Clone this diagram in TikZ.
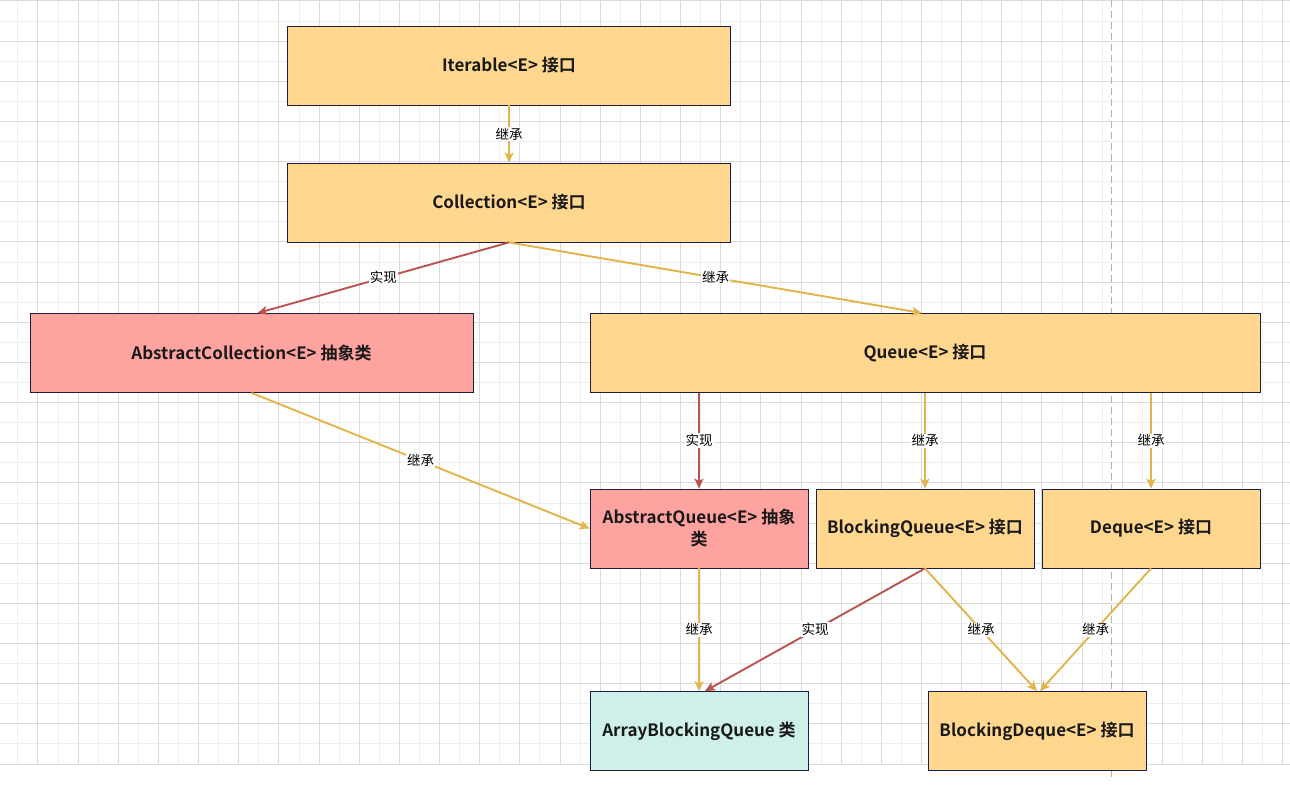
\documentclass[tikz,border=0pt]{standalone}
\usepackage{fontspec}
\newfontfamily\cjk{Noto Sans CJK SC}[BoldFont={Noto Sans CJK SC Bold}]
\usetikzlibrary{arrows.meta}
\definecolor{jaune}{HTML}{FFD78F}
\definecolor{rose}{HTML}{FFA3A0}
\definecolor{turquoise}{HTML}{CFF0E8}
\definecolor{bord}{HTML}{1B1F45}
\definecolor{lienjaune}{HTML}{E3B44B}
\definecolor{lienrouge}{HTML}{B95450}
\definecolor{majeure}{HTML}{DADADA}
\definecolor{mineure}{HTML}{EEEEEE}
\tikzset{
    boite/.style={draw=bord,thick,minimum height=79,align=center,
        font=\cjk\bfseries\fontsize{17}{22}\selectfont,text=black!90},
    herite/.style={lienjaune,line width=1.9pt,-{Stealth[length=10pt,width=9pt,inset=2.5pt]}},
    realise/.style={herite,lienrouge},
    etiq/.style={fill=white,inner sep=1pt,text=black,font=\cjk\fontsize{13.5}{15}\selectfont},
}

\begin{document}
\begin{tikzpicture}[x=1pt,y=-1pt]
    \useasboundingbox (0,0) rectangle (1290,786);
    % grille
    \begin{scope}
        \clip (0,0) rectangle (1290,765);
        \foreach\i in {1,3,...,65}{
            \draw[mineure,line width=1pt] (-2.2+\i*20.08,1) -- +(0,763);}
        \foreach\j in {1,3,...,37}{
            \draw[mineure,line width=1pt] (0,1+\j*20.08) -- +(1290,0);}
        \foreach\i in {0,2,...,64}{
            \draw[majeure,line width=1pt] (-2.2+\i*20.08,1) -- +(0,763);}
        \foreach\j in {0,2,...,38}{
            \draw[majeure,line width=1pt] (0,1+\j*20.08) -- +(1290,0);}
    \end{scope}
    \draw[black!30,dash pattern=on 7pt off 4pt,line width=1pt] (1111,0) -- (1111,780);
    % boites
    \node[boite,fill=jaune,minimum width=443] (iter) at (509,65.5) {Iterable<E> 接口};
    \node[boite,fill=jaune,minimum width=443] (coll) at (509,202.5) {Collection<E> 接口};
    \node[boite,fill=rose,minimum width=443] (acoll) at (251.5,353) {AbstractCollection<E> 抽象类};
    \node[boite,fill=jaune,minimum width=670] (queue) at (925,353) {Queue<E> 接口};
    \node[boite,fill=rose,minimum width=218] (aqueue) at (699,528.5) {AbstractQueue<E> 抽象\\类};
    \node[boite,fill=jaune,minimum width=218] (bqueue) at (925,528.5) {BlockingQueue<E> 接口};
    \node[boite,fill=jaune,minimum width=218] (deque) at (1151,528.5) {Deque<E> 接口};
    \node[boite,fill=turquoise,minimum width=218] (abq) at (699,731) {ArrayBlockingQueue 类};
    \node[boite,fill=jaune,minimum width=218] (bdeque) at (1037,731) {BlockingDeque<E> 接口};
    % liens
    \draw[herite] (iter) -- node[etiq]{继承} (coll);
    \draw[realise] (coll.south) -- node[etiq]{实现} ([xshift=6]acoll.north);
    \draw[herite] (coll.south) -- node[etiq]{继承} ([xshift=-3]queue.north);
    \draw[herite] (acoll.south) -- node[etiq]{继承} (aqueue.west);
    \draw[realise] (aqueue.north |- queue.south) -- node[etiq]{实现} (aqueue.north);
    \draw[herite] (bqueue.north |- queue.south) -- node[etiq]{继承} (bqueue.north);
    \draw[herite] (deque.north |- queue.south) -- node[etiq]{继承} (deque.north);
    \draw[herite] (aqueue) -- node[etiq]{继承} (abq);
    \draw[realise] (bqueue.south) -- node[etiq]{实现} ([xshift=6]abq.north);
    \draw[herite] (bqueue.south) -- node[etiq]{继承} (bdeque.north);
    \draw[herite] (deque.south) -- node[etiq]{继承} ([xshift=3]bdeque.north);
\end{tikzpicture}
\end{document}
